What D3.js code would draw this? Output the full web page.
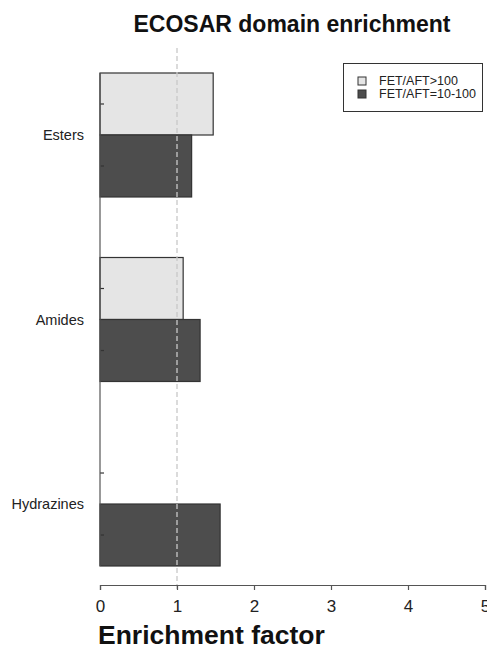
<!DOCTYPE html>
<html>
<head>
<meta charset="utf-8">
<script src="https://cdn.jsdelivr.net/npm/d3@7"></script>
<style>
  html, body { margin: 0; padding: 0; background: #fff; }
  svg { display: block; font-family: "Liberation Sans", Arial, sans-serif; }
</style>
</head>
<body>
<svg id="chart" width="487" height="650"></svg>
<script>
// Enrichment factor per ECOSAR class, split by toxicity ratio band
const categories = ["Esters", "Amides", "Hydrazines"];
const seriesNames = ["FET/AFT>100", "FET/AFT=10-100"];
const highRatioValues = [1.47, 1.08, 0];
const midRatioValues = [1.19, 1.30, 1.56];
const seriesColors = ["#e5e5e5", "#4d4d4d"];
const xTicks = [0, 1, 2, 3, 4, 5];
const referenceLine = 1;

const rows = categories.map((c, i) => ({
  category: c,
  values: [
    { series: seriesNames[0], value: highRatioValues[i] },
    { series: seriesNames[1], value: midRatioValues[i] }
  ]
}));

const svg = d3.select("#chart");

const x = d3.scaleLinear().domain([0, 5]).range([100, 485]);
const y = d3.scaleBand().domain(categories).range([73, 566]).paddingInner(0.328).paddingOuter(0);
const ySub = d3.scaleBand().domain(seriesNames).range([0, y.bandwidth()]);

// Title
svg.append("text")
  .attr("x", 292).attr("y", 32)
  .attr("text-anchor", "middle")
  .attr("font-size", 23).attr("font-weight", "bold")
  .attr("fill", "#111")
  .text("ECOSAR domain enrichment");

// Bars
const groups = svg.append("g").selectAll("g")
  .data(rows).join("g")
  .attr("transform", d => `translate(0,${y(d.category)})`);

groups.selectAll("rect")
  .data(d => d.values).join("rect")
  .attr("x", x(0))
  .attr("y", d => ySub(d.series))
  .attr("width", d => x(d.value) - x(0))
  .attr("height", ySub.bandwidth())
  .attr("fill", (d, i) => seriesColors[i])
  .attr("stroke", "#333")
  .attr("stroke-width", 1.2);

// Reference line at enrichment factor 1
svg.append("line")
  .attr("x1", x(referenceLine)).attr("x2", x(referenceLine))
  .attr("y1", 48).attr("y2", 590)
  .attr("stroke", "#c8c8c8").attr("stroke-width", 1.3)
  .attr("stroke-dasharray", "5,3");

// Left axis line with small inward ticks at bar centres
svg.append("line")
  .attr("x1", x(0)).attr("x2", x(0))
  .attr("y1", 73).attr("y2", 566)
  .attr("stroke", "#555").attr("stroke-width", 1.2);

groups.selectAll("line.tick")
  .data(d => d.values).join("line")
  .attr("class", "tick")
  .attr("x1", x(0)).attr("x2", x(0) + 4)
  .attr("y1", d => ySub(d.series) + ySub.bandwidth() / 2)
  .attr("y2", d => ySub(d.series) + ySub.bandwidth() / 2)
  .attr("stroke", "#333").attr("stroke-width", 1.2);

// Category labels
svg.append("g").selectAll("text")
  .data(categories).join("text")
  .attr("x", 84)
  .attr("y", d => y(d) + y.bandwidth() / 2)
  .attr("dy", "0.35em")
  .attr("text-anchor", "end")
  .attr("font-size", 14.5)
  .attr("fill", "#222")
  .text(d => d);

// Bottom axis
const xAxis = svg.append("g")
  .attr("transform", "translate(0,585)")
  .call(d3.axisBottom(x).tickValues(xTicks).tickFormat(d3.format("d")).tickSize(5).tickPadding(10));
xAxis.select(".domain").attr("stroke", "#555").attr("stroke-width", 1.2);
xAxis.selectAll(".tick line").attr("stroke", "#555").attr("stroke-width", 1.2);
xAxis.selectAll(".tick text")
  .attr("font-size", 17)
  .attr("font-family", "'Liberation Sans', Arial, sans-serif")
  .attr("fill", "#222");

// Axis title
svg.append("text")
  .attr("x", 98).attr("y", 644)
  .attr("font-size", 26.5).attr("font-weight", "bold")
  .attr("fill", "#111")
  .text("Enrichment factor");

// Legend
const legend = svg.append("g");
legend.append("rect")
  .attr("x", 343.5).attr("y", 63.5)
  .attr("width", 139).attr("height", 48)
  .attr("fill", "#fff").attr("stroke", "#333").attr("stroke-width", 1);

const items = legend.selectAll("g.item")
  .data(seriesNames).join("g")
  .attr("class", "item")
  .attr("transform", (d, i) => `translate(0,${81 + i * 13})`);
items.append("rect")
  .attr("x", 358).attr("y", -4)
  .attr("width", 8).attr("height", 8)
  .attr("fill", (d, i) => seriesColors[i])
  .attr("stroke", "#333").attr("stroke-width", 1);
items.append("text")
  .attr("x", 379).attr("y", 0)
  .attr("dy", "0.35em")
  .attr("font-size", 12.5)
  .attr("fill", "#222")
  .text(d => d);
</script>
</body>
</html>
